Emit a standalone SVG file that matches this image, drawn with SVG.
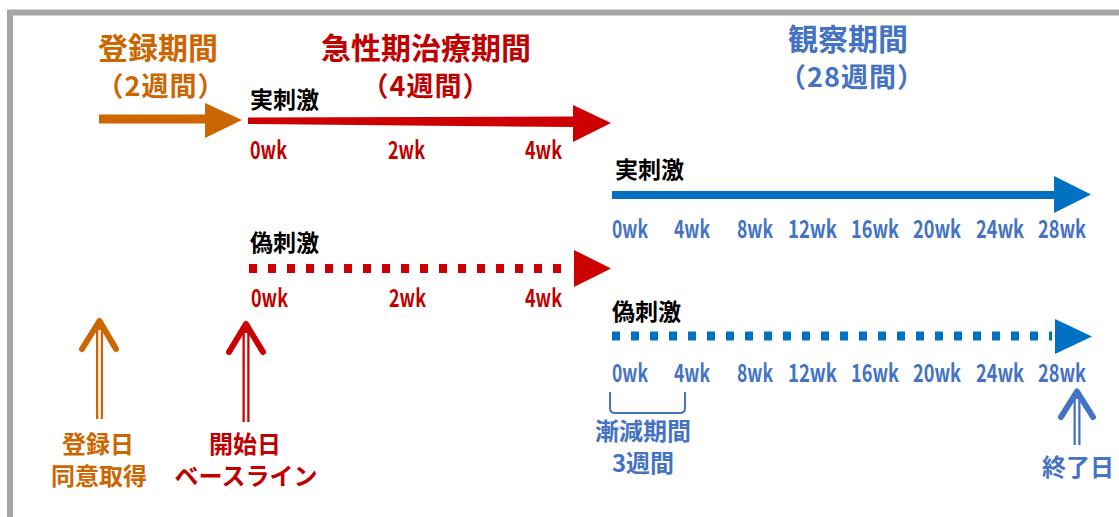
<svg xmlns="http://www.w3.org/2000/svg" width="1119" height="517" viewBox="0 0 1119 517">
<style>
text{font-family:"Noto Sans CJK JP","Noto Sans",sans-serif}
.ttl{font-size:30px;font-weight:700;text-anchor:middle}
.sub{font-size:27px;font-weight:700;text-anchor:middle;letter-spacing:1px}
.lab{font-size:23px;font-weight:700;fill:#000}
.wk{font-size:24px;font-weight:700}
.note{font-size:24px;font-weight:700;text-anchor:middle}
.or{fill:#CC6600}.rd{fill:#C00000}.bl{fill:#4472C4}
.upO{stroke:#CC6600}.upR{stroke:#CC0000}.upB{stroke:#4472C4}
.chev{fill:none;stroke-width:6;stroke-linecap:round;stroke-linejoin:round}
.shaft{stroke-width:7}
.gap{stroke:#fff;stroke-width:2.5}
</style>
<rect x="10" y="12.5" width="1130" height="520" fill="none" stroke="#A6A6A6" stroke-width="6"/>

<g id="connectors">
  <g id="arrow-enroll">
    <rect x="99" y="114.5" width="108" height="9" fill="#CC6600"/>
    <polygon points="205,103 242,120 205,138" fill="#CC6600"/>
  </g>
  <g id="arrow-acute-real">
    <polygon points="248,117.5 575,116.5 575,127 248,124" fill="#CC0000"/>
    <polygon points="573,105 611,123 573,142" fill="#CC0000"/>
  </g>
  <g id="arrow-acute-sham">
    <line x1="249" y1="268.5" x2="572" y2="268.5" stroke="#CC0000" stroke-width="9" stroke-dasharray="8 11"/>
    <polygon points="574,250 611,268.5 574,287" fill="#CC0000"/>
  </g>
  <g id="arrow-obs-real">
    <rect x="612" y="191" width="444" height="8" fill="#0070C0"/>
    <polygon points="1054,176 1091,194.5 1054,213" fill="#0070C0"/>
  </g>
  <g id="arrow-obs-sham">
    <line x1="612" y1="336" x2="1052" y2="336" stroke="#0070C0" stroke-width="9" stroke-dasharray="8 11"/>
    <polygon points="1055,319 1092,336.5 1055,354" fill="#0070C0"/>
  </g>
  <g id="up-enroll">
    <line x1="99.5" y1="324" x2="99.5" y2="419" class="upO shaft"/>
    <line x1="99.5" y1="330" x2="99.5" y2="419" class="gap"/>
    <polyline points="82,349 99.5,321 116,349" class="chev upO"/>
  </g>
  <g id="up-start">
    <line x1="246" y1="327" x2="246" y2="422" class="upR shaft"/>
    <line x1="246" y1="333" x2="246" y2="422" class="gap"/>
    <polyline points="229,352 246,324 263,352" class="chev upR"/>
  </g>
  <g id="up-end">
    <line x1="1077" y1="394" x2="1077" y2="445" class="upB shaft"/>
    <line x1="1077" y1="399" x2="1077" y2="445" class="gap"/>
    <polyline points="1061,417 1077,391.5 1093,417" class="chev upB" stroke-width="5.5"/>
  </g>
  <path id="taper-bracket" d="M610,392 V408 Q610,413 615,413 H680 Q685,413 685,408 V392" fill="none" stroke="#4472C4" stroke-width="2"/>
</g>

<g id="title-enroll">
  <text class="ttl or" x="158" y="59">登録期間</text>
  <text class="sub or" x="161" y="96">（2週間）</text>
</g>
<g id="title-acute">
  <text class="ttl rd" x="426" y="59">急性期治療期間</text>
  <text class="sub rd" x="426" y="96">（4週間）</text>
</g>
<g id="title-obs">
  <text class="ttl bl" x="848" y="50">観察期間</text>
  <text class="sub bl" x="852" y="87">（28週間）</text>
</g>

<g id="acute-real-labels">
  <text class="lab" x="250" y="108">実刺激</text>
  <text class="wk rd" x="250" y="159" textLength="37" lengthAdjust="spacingAndGlyphs">0wk</text>
  <text class="wk rd" x="388" y="159" textLength="37" lengthAdjust="spacingAndGlyphs">2wk</text>
  <text class="wk rd" x="525" y="159" textLength="37" lengthAdjust="spacingAndGlyphs">4wk</text>
</g>
<g id="acute-sham-labels">
  <text class="lab" x="250" y="251">偽刺激</text>
  <text class="wk rd" x="251" y="307" textLength="37" lengthAdjust="spacingAndGlyphs">0wk</text>
  <text class="wk rd" x="389" y="307" textLength="37" lengthAdjust="spacingAndGlyphs">2wk</text>
  <text class="wk rd" x="525" y="307" textLength="37" lengthAdjust="spacingAndGlyphs">4wk</text>
</g>
<g id="obs-real-labels">
  <text class="lab" x="615" y="178">実刺激</text>
  <text class="wk bl" x="612" y="238" textLength="36" lengthAdjust="spacingAndGlyphs">0wk</text>
  <text class="wk bl" x="674" y="238" textLength="36" lengthAdjust="spacingAndGlyphs">4wk</text>
  <text class="wk bl" x="737" y="238" textLength="36" lengthAdjust="spacingAndGlyphs">8wk</text>
  <text class="wk bl" x="788" y="238" textLength="49" lengthAdjust="spacingAndGlyphs">12wk</text>
  <text class="wk bl" x="851" y="238" textLength="48" lengthAdjust="spacingAndGlyphs">16wk</text>
  <text class="wk bl" x="913" y="238" textLength="48" lengthAdjust="spacingAndGlyphs">20wk</text>
  <text class="wk bl" x="976" y="238" textLength="48" lengthAdjust="spacingAndGlyphs">24wk</text>
  <text class="wk bl" x="1038" y="238" textLength="48" lengthAdjust="spacingAndGlyphs">28wk</text>
</g>
<g id="obs-sham-labels">
  <text class="lab" x="612" y="320">偽刺激</text>
  <text class="wk bl" x="612" y="382" textLength="36" lengthAdjust="spacingAndGlyphs">0wk</text>
  <text class="wk bl" x="674" y="382" textLength="36" lengthAdjust="spacingAndGlyphs">4wk</text>
  <text class="wk bl" x="737" y="382" textLength="36" lengthAdjust="spacingAndGlyphs">8wk</text>
  <text class="wk bl" x="788" y="382" textLength="49" lengthAdjust="spacingAndGlyphs">12wk</text>
  <text class="wk bl" x="851" y="382" textLength="48" lengthAdjust="spacingAndGlyphs">16wk</text>
  <text class="wk bl" x="913" y="382" textLength="48" lengthAdjust="spacingAndGlyphs">20wk</text>
  <text class="wk bl" x="976" y="382" textLength="48" lengthAdjust="spacingAndGlyphs">24wk</text>
  <text class="wk bl" x="1038" y="382" textLength="48" lengthAdjust="spacingAndGlyphs">28wk</text>
</g>

<g id="note-enroll">
  <text class="note or" x="98" y="453">登録日</text>
  <text class="note or" x="99" y="485">同意取得</text>
</g>
<g id="note-start">
  <text class="note rd" x="245" y="453">開始日</text>
  <text class="note rd" x="246" y="485">ベースライン</text>
</g>
<g id="note-taper">
  <text class="note bl" x="643" y="440">漸減期間</text>
  <text class="note bl" x="643" y="472">3週間</text>
</g>
<g id="note-end">
  <text class="note bl" x="1078" y="476">終了日</text>
</g>
</svg>
